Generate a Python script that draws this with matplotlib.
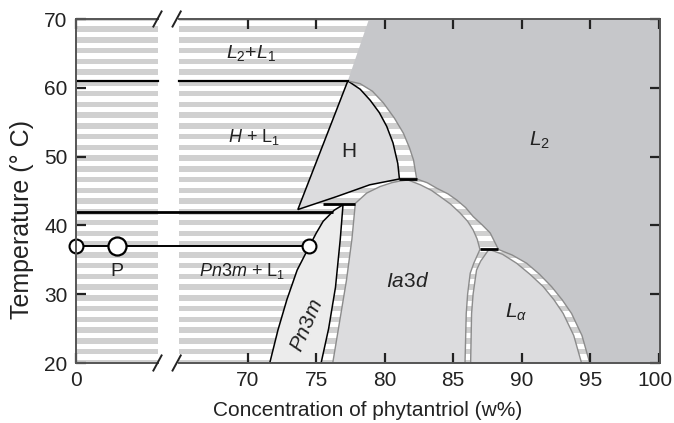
import matplotlib
matplotlib.use("Agg")
import matplotlib.pyplot as plt
import matplotlib.transforms as mtransforms
import numpy as np
from matplotlib.patches import Polygon

plt.rcParams['font.family'] = ['Liberation Sans', 'DejaVu Sans']
plt.rcParams['mathtext.fontset'] = 'custom'
plt.rcParams['mathtext.rm'] = 'Liberation Sans'
plt.rcParams['mathtext.it'] = 'Liberation Sans:italic'

# axis position that stands for 0 w% (dilute part, left of the axis break)
X0 = 57.45
GAP = (63.45, 65.0)
X_MAX = 100.1

# tick labels
x_ticks = [70, 75, 80, 85, 90, 95, 100]
y_ticks = [20, 30, 40, 50, 60, 70]

# dispersion line at 37 C: bulk water (0 w%), point P, Pn3m edge
T_LINE = 37.0
P_CONC = 3.0
PN3M_EDGE = 74.5

# phase boundaries, (w%, deg C)
h_left = [(77.3, 61.0), (73.65, 42.3)]
h_bottom = [(73.65, 42.3), (76.5, 44.2), (78.9, 45.9), (81.07, 46.75)]
h_right = [(81.07, 46.75), (80.95, 49.0), (80.6, 52.0), (80.14, 54.4), (79.6, 56.4),
           (78.93, 58.2), (78.2, 59.8), (77.3, 61.0)]
h_outer = [(77.3, 61.0), (78.2, 60.6), (79.1, 59.5), (79.9, 57.8), (80.7, 55.6),
           (81.36, 53.4), (81.8, 51.3), (82.1, 49.5), (82.33, 46.75)]
l2_top = [(78.85, 70.0), (77.3, 61.0)]

ia3d_left = [(76.2, 20.0), (76.7, 26.0), (77.2, 32.0), (77.6, 38.0), (77.85, 43.2)]
ia3d_top = [(77.85, 43.2), (78.68, 44.7), (79.66, 45.65), (80.5, 46.2), (81.1, 46.45),
            (81.7, 46.6), (82.6, 45.9), (83.4, 45.1), (84.04, 44.2), (84.8, 43.1),
            (85.5, 41.8), (86.05, 40.6), (86.45, 39.35), (86.75, 38.0), (86.95, 36.5)]
ia3d_la = [(86.95, 36.5), (86.5, 34.5), (86.24, 33.05), (86.05, 30.0), (85.95, 27.2),
           (85.86, 20.0)]
ia3d_outer = [(82.33, 46.75), (83.1, 46.2), (83.8, 45.4), (84.6, 44.6), (85.25, 43.7),
              (85.9, 42.6), (86.45, 41.3), (87.1, 40.1), (87.7, 38.9), (88.3, 36.5)]

la_left = [(87.6, 36.5), (87.0, 34.8), (86.7, 33.5), (86.45, 30.0), (86.34, 27.2),
           (86.27, 20.0)]
la_right = [(87.64, 36.5), (88.6, 35.8), (89.63, 34.5), (90.6, 32.9), (91.57, 31.1),
            (92.35, 29.2), (93.03, 27.2), (93.8, 24.0), (94.37, 20.0)]
la_outer = [(88.3, 36.5), (89.3, 35.7), (90.36, 34.5), (91.3, 32.9), (92.18, 31.1),
            (92.95, 29.2), (93.64, 27.2), (94.4, 24.0), (94.97, 20.0)]

pn_left = [(71.6, 20.0), (72.2, 24.8), (72.85, 29.2), (73.6, 33.5), (74.5, 37.0),
           (75.0, 38.9), (75.5, 40.6), (76.3, 42.2), (76.95, 43.0)]
pn_right = [(76.95, 43.0), (76.75, 38.0), (76.4, 31.0), (75.9, 25.0), (75.35, 20.0)]

# horizontal (three phase) lines: temperature, from, to
tie_lines = [(42.0, X0, 76.25), (43.1, 75.5, 77.85), (46.75, 81.07, 82.33), (36.5, 86.95, 88.3)]
T_L2L1 = 61.0

C_STRIPE = '#d0d0d0'
C_L2 = '#c6c7ca'
C_PHASE = '#dcdcde'
C_PN3M = '#ececec'
C_GRAY = '#8c8c8c'
C_TEXT = '#222222'

fig = plt.figure(figsize=(6.74, 4.23), dpi=100)
ax = fig.add_axes([76 / 674, 60 / 423, 584 / 674, 344 / 423])
ax.set_xlim(X0, X_MAX)
ax.set_ylim(20, 70)

# striped background = two-phase regions
period = 50 / 32
for k in range(33):
    lo = 19.7 + k * period
    ax.axhspan(lo, lo + 0.78, color=C_STRIPE, lw=0, zorder=0.5)
ax.axvspan(GAP[0], GAP[1], color='white', lw=0, zorder=0.6)

# single phase regions
l2_poly = l2_top + h_outer[1:] + ia3d_outer[1:] + la_outer[1:] + [(X_MAX + 1, 20), (X_MAX + 1, 70)]
ax.add_patch(Polygon(l2_poly, closed=True, fc=C_L2, ec='none', zorder=1))

h_poly = h_left + h_bottom[1:] + h_right[1:]
ax.add_patch(Polygon(h_poly, closed=True, fc=C_PHASE, ec='black', lw=1.1, zorder=1.2))

ia3d_poly = ia3d_left + ia3d_top[1:] + ia3d_la[1:]
ax.add_patch(Polygon(ia3d_poly, closed=True, fc=C_PHASE, ec=C_GRAY, lw=1.0, zorder=1.2))

la_poly = la_left + la_right[::-1]
ax.add_patch(Polygon(la_poly, closed=True, fc=C_PHASE, ec=C_GRAY, lw=1.0, zorder=1.2))

pn_poly = pn_left + pn_right[1:]
ax.add_patch(Polygon(pn_poly, closed=True, fc=C_PN3M, ec='black', lw=1.1, zorder=1.2))

for line in [h_outer, ia3d_outer, la_outer]:
    xs, ys = zip(*line)
    ax.plot(xs, ys, color=C_GRAY, lw=1.0, zorder=1.5)

# three phase lines
ax.plot([X0, GAP[0]], [T_L2L1, T_L2L1], color='black', lw=1.6, zorder=3)
ax.plot([GAP[1], h_left[0][0]], [T_L2L1, T_L2L1], color='black', lw=1.6, zorder=3)
for t, x1, x2 in tie_lines:
    ax.plot([x1, x2], [t, t], color='black', lw=2.0, zorder=3, solid_capstyle='butt')

# dispersion line and points
ax.plot([X0, PN3M_EDGE], [T_LINE, T_LINE], color='black', lw=1.4, zorder=3)
ax.plot([X0, PN3M_EDGE], [T_LINE, T_LINE], 'o', ms=10, mfc='white', mec='black', mew=1.5,
        zorder=5, clip_on=False)
ax.plot([X0 + P_CONC], [T_LINE], 'o', ms=13, mfc='white', mec='black', mew=1.6, zorder=5)

# labels
ax.text(70.2, 65.1, '$L_2$+$L_1$', fontsize=14, ha='center', va='center', color=C_TEXT)
ax.text(70.45, 52.9, '$H$ + L$_1$', fontsize=13, ha='center', va='center', color=C_TEXT)
ax.text(77.4, 50.7, 'H', fontsize=15, ha='center', va='center', color=C_TEXT)
ax.text(91.3, 52.4, '$L_2$', fontsize=15, ha='center', va='center', color=C_TEXT)
ax.text(81.65, 31.8, '$Ia3d$', fontsize=15, ha='center', va='center', color=C_TEXT)
ax.text(89.6, 27.4, r'$L_\alpha$', fontsize=15, ha='center', va='center', color=C_TEXT)
ax.text(74.3, 25.5, '$Pn3m$', fontsize=15, ha='center', va='center', rotation=67,
        color=C_TEXT)
ax.text(69.6, 33.3, '$Pn3m$ + L$_1$', fontsize=13, ha='center', va='center', color=C_TEXT)
ax.text(X0 + P_CONC, 33.3, 'P', fontsize=14, ha='center', va='center', color=C_TEXT)

# axes, ticks and broken spines
spine_c = '#555555'
for side in ['left', 'right']:
    ax.spines[side].set_color(spine_c)
    ax.spines[side].set_linewidth(1.4)
    ax.spines[side].set_zorder(6)
for side in ['top', 'bottom']:
    ax.spines[side].set_visible(False)
for t in [20, 70]:
    ax.plot([X0, GAP[0]], [t, t], color=spine_c, lw=1.4, clip_on=False, zorder=6)
    ax.plot([GAP[1], X_MAX], [t, t], color=spine_c, lw=1.4, clip_on=False, zorder=6)
    for xc in [GAP[0] - 0.05, GAP[1] - 0.2]:
        ax.plot([xc - 0.3, xc + 0.3], [t - 1.1, t + 1.1], color=C_TEXT, lw=1.4,
                clip_on=False, zorder=6)

ax.set_xticks([X0] + x_ticks)
ax.set_xticklabels(['0'] + [str(v) for v in x_ticks])
ax.set_yticks(y_ticks)
ax.tick_params(direction='in', length=7, width=1.6, color=C_TEXT, top=True, right=True,
               labelsize=15, labelcolor=C_TEXT, pad=6)

# keep "100" inside the picture
last = ax.get_xticklabels()[-1]
last.set_transform(last.get_transform() + mtransforms.ScaledTranslation(-4 / 100, 0, fig.dpi_scale_trans))

ax.set_xlabel('Concentration of phytantriol (w%)', fontsize=15, color=C_TEXT)
ax.xaxis.label.set_va('center')
ax.xaxis.set_label_coords(0.5, -0.1395)
ax.set_ylabel('Temperature (° C)', fontsize=18, color=C_TEXT)
ax.yaxis.label.set_va('center')
ax.yaxis.set_label_coords(-0.093, 0.416)

fig.savefig('out.png', dpi=100)
